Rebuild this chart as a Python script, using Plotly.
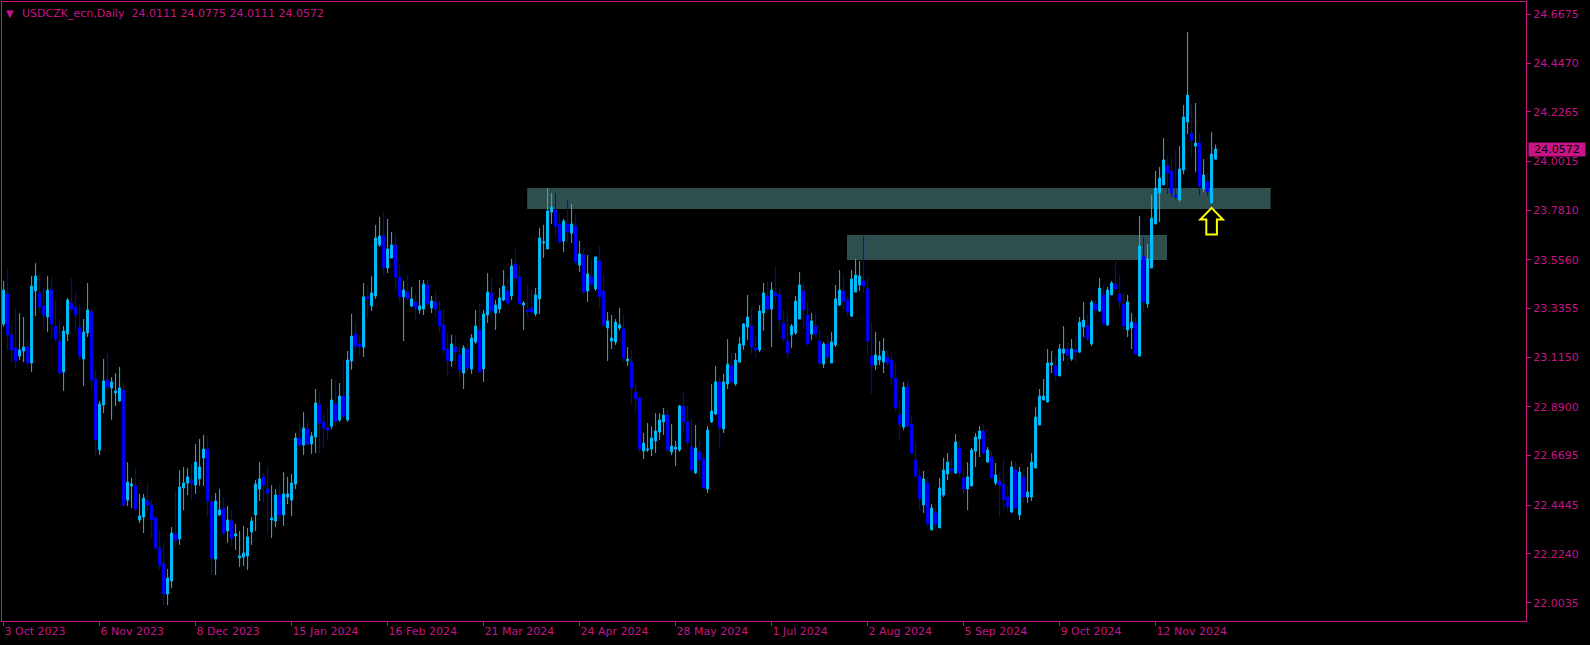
import plotly.graph_objects as go

# ---------------- data (USDCZK_ecn, Daily) ----------------
opens = [
23.265, 23.401, 23.216, 23.157, 23.120, 23.143, 23.161, 23.089, 23.415, 23.406,
23.347, 23.297, 23.419, 23.256, 23.188, 23.048, 23.220, 23.360, 23.342, 23.252,
23.107, 23.225, 23.320, 23.016, 22.695, 22.899, 23.012, 22.976, 22.953, 22.917,
22.966, 22.468, 22.532, 22.532, 22.378, 22.391, 22.464, 22.446, 22.391, 22.251,
22.179, 22.043, 22.102, 22.315, 22.292, 22.523, 22.545, 22.554, 22.536, 22.564,
22.659, 22.699, 22.459, 22.201, 22.401, 22.432, 22.328, 22.373, 22.305, 22.206,
22.210, 22.215, 22.324, 22.401, 22.518, 22.573, 22.518, 22.378, 22.373, 22.491,
22.401, 22.482, 22.468, 22.541, 22.749, 22.717, 22.790, 22.722, 22.754, 22.899,
22.822, 22.794, 22.803, 22.903, 22.831, 22.939, 22.831, 23.098, 23.220, 23.175,
23.161, 23.388, 23.347, 23.392, 23.623, 23.664, 23.519, 23.564, 23.623, 23.478,
23.388, 23.410, 23.347, 23.365, 23.329, 23.333, 23.442, 23.338, 23.365, 23.324,
23.261, 23.152, 23.098, 23.161, 23.125, 23.043, 23.152, 23.062, 23.184, 23.238,
23.062, 23.306, 23.406, 23.315, 23.333, 23.374, 23.415, 23.392, 23.537, 23.478,
23.351, 23.329, 23.338, 23.311, 23.379, 23.632, 23.605, 23.772, 23.781, 23.718,
23.641, 23.718, 23.677, 23.709, 23.532, 23.578, 23.415, 23.478, 23.424, 23.550,
23.415, 23.247, 23.188, 23.184, 23.247, 23.243, 23.098, 23.093, 22.957, 22.930,
22.690, 22.695, 22.699, 22.736, 22.776, 22.822, 22.853, 22.686, 22.699, 22.695,
22.894, 22.822, 22.708, 22.591, 22.686, 22.654, 22.518, 22.822, 22.858, 23.003,
22.790, 22.994, 23.075, 22.994, 23.093, 23.170, 23.252, 23.256, 23.157, 23.148,
23.315, 23.392, 23.333, 23.406, 23.397, 23.270, 23.188, 23.216, 23.225, 23.288,
23.415, 23.306, 23.220, 23.256, 23.188, 23.084, 23.175, 23.089, 23.170, 23.351,
23.415, 23.374, 23.301, 23.410, 23.442, 23.460, 23.424, 23.120, 23.080, 23.102,
23.093, 23.116, 23.102, 23.021, 22.853, 22.799, 22.980, 22.812, 22.650, 22.577,
22.446, 22.545, 22.333, 22.410, 22.342, 22.491, 22.586, 22.609, 22.591, 22.704,
22.568, 22.518, 22.532, 22.690, 22.745, 22.781, 22.640, 22.663, 22.545, 22.554,
22.541, 22.482, 22.414, 22.604, 22.401, 22.573, 22.482, 22.482, 22.613, 22.808,
22.921, 22.912, 23.080, 23.075, 23.030, 23.134, 23.152, 23.107, 23.148, 23.138,
23.252, 23.256, 23.175, 23.356, 23.324, 23.397, 23.261, 23.397, 23.446, 23.401,
23.356, 23.238, 23.247, 23.270, 23.120, 23.573, 23.356, 23.519, 23.718, 23.858,
23.895, 23.981, 23.958, 23.849, 23.827, 23.963, 24.180, 24.130, 24.071, 24.085,
23.877, 23.908, 23.813, 24.0111,
]

highs = [
23.460, 23.514, 23.265, 23.333, 23.315, 23.297, 23.197, 23.483, 23.541, 23.492,
23.428, 23.483, 23.474, 23.369, 23.288, 23.256, 23.383, 23.474, 23.410, 23.356,
23.288, 23.451, 23.333, 23.057, 22.917, 23.107, 23.134, 23.025, 23.043, 23.071,
22.989, 22.640, 22.568, 22.613, 22.496, 22.496, 22.545, 22.468, 22.391, 22.333,
22.265, 22.156, 22.346, 22.509, 22.604, 22.618, 22.613, 22.636, 22.722, 22.745,
22.763, 22.758, 22.487, 22.500, 22.518, 22.482, 22.441, 22.423, 22.360, 22.328,
22.351, 22.342, 22.391, 22.559, 22.640, 22.591, 22.622, 22.536, 22.518, 22.536,
22.595, 22.573, 22.586, 22.772, 22.817, 22.867, 22.826, 22.776, 22.971, 22.957,
22.867, 22.885, 23.016, 23.012, 22.998, 23.107, 23.143, 23.311, 23.270, 23.216,
23.451, 23.442, 23.483, 23.714, 23.750, 23.772, 23.741, 23.682, 23.673, 23.532,
23.460, 23.487, 23.433, 23.401, 23.465, 23.465, 23.465, 23.392, 23.415, 23.369,
23.333, 23.225, 23.216, 23.211, 23.161, 23.170, 23.175, 23.220, 23.329, 23.356,
23.329, 23.496, 23.474, 23.374, 23.428, 23.510, 23.478, 23.560, 23.605, 23.532,
23.369, 23.446, 23.424, 23.428, 23.700, 23.714, 23.881, 23.858, 23.858, 23.768,
23.741, 23.827, 23.809, 23.763, 23.641, 23.605, 23.578, 23.550, 23.569, 23.618,
23.492, 23.320, 23.306, 23.288, 23.338, 23.311, 23.161, 23.148, 22.998, 22.939,
22.772, 22.817, 22.803, 22.862, 22.862, 22.885, 22.881, 22.812, 22.736, 22.899,
22.957, 22.894, 22.835, 22.808, 22.745, 22.677, 22.803, 22.994, 23.075, 23.025,
23.039, 23.197, 23.138, 23.134, 23.206, 23.270, 23.397, 23.338, 23.216, 23.351,
23.451, 23.460, 23.455, 23.528, 23.433, 23.329, 23.311, 23.265, 23.392, 23.501,
23.455, 23.365, 23.315, 23.324, 23.238, 23.184, 23.211, 23.229, 23.442, 23.510,
23.483, 23.392, 23.510, 23.560, 23.550, 23.664, 23.474, 23.274, 23.229, 23.188,
23.202, 23.148, 23.125, 23.089, 22.921, 23.003, 23.012, 22.849, 22.731, 22.609,
22.600, 22.573, 22.450, 22.450, 22.568, 22.659, 22.681, 22.663, 22.767, 22.736,
22.613, 22.640, 22.704, 22.772, 22.803, 22.812, 22.708, 22.690, 22.636, 22.595,
22.654, 22.532, 22.645, 22.645, 22.618, 22.609, 22.618, 22.681, 22.889, 22.971,
23.016, 23.152, 23.143, 23.116, 23.175, 23.256, 23.184, 23.197, 23.216, 23.297,
23.365, 23.306, 23.374, 23.374, 23.474, 23.442, 23.433, 23.460, 23.560, 23.487,
23.410, 23.397, 23.315, 23.297, 23.754, 23.659, 23.628, 23.849, 23.958, 23.976,
24.107, 24.026, 24.017, 24.053, 24.071, 24.257, 24.587, 24.266, 24.266, 24.130,
24.012, 23.949, 24.134, 24.0775,
]

lows = [
23.252, 23.148, 23.093, 23.062, 23.102, 23.093, 23.071, 23.048, 23.301, 23.315,
23.234, 23.229, 23.197, 23.184, 23.039, 22.962, 23.188, 23.324, 23.234, 23.098,
22.985, 23.206, 22.971, 22.668, 22.672, 22.862, 22.962, 22.831, 22.894, 22.912,
22.437, 22.441, 22.432, 22.419, 22.364, 22.319, 22.419, 22.296, 22.247, 22.151,
21.993, 21.993, 22.070, 22.256, 22.265, 22.423, 22.491, 22.464, 22.496, 22.532,
22.532, 22.396, 22.129, 22.129, 22.396, 22.310, 22.274, 22.260, 22.242, 22.165,
22.170, 22.151, 22.265, 22.328, 22.464, 22.459, 22.315, 22.296, 22.346, 22.382,
22.351, 22.450, 22.396, 22.518, 22.708, 22.672, 22.713, 22.677, 22.681, 22.681,
22.699, 22.736, 22.790, 22.803, 22.822, 22.840, 22.822, 23.057, 23.143, 23.120,
23.116, 23.292, 23.324, 23.379, 23.614, 23.483, 23.496, 23.564, 23.419, 23.365,
23.188, 23.369, 23.342, 23.279, 23.311, 23.306, 23.347, 23.315, 23.297, 23.225,
23.129, 23.034, 23.071, 23.080, 23.021, 22.971, 23.052, 23.039, 23.175, 23.043,
23.003, 23.270, 23.292, 23.238, 23.315, 23.369, 23.347, 23.374, 23.451, 23.351,
23.238, 23.292, 23.315, 23.301, 23.311, 23.564, 23.605, 23.718, 23.664, 23.628,
23.591, 23.637, 23.632, 23.532, 23.501, 23.397, 23.365, 23.437, 23.415, 23.338,
23.252, 23.098, 23.152, 23.170, 23.238, 23.093, 23.075, 22.903, 22.871, 22.686,
22.654, 22.686, 22.668, 22.681, 22.740, 22.763, 22.686, 22.672, 22.622, 22.686,
22.781, 22.713, 22.595, 22.586, 22.564, 22.518, 22.500, 22.817, 22.853, 22.699,
22.772, 22.971, 22.994, 22.985, 23.089, 23.148, 23.193, 23.129, 23.111, 23.138,
23.234, 23.320, 23.161, 23.360, 23.234, 23.184, 23.111, 23.157, 23.216, 23.288,
23.243, 23.166, 23.193, 23.202, 23.080, 23.066, 23.102, 23.089, 23.161, 23.347,
23.329, 23.301, 23.297, 23.410, 23.415, 23.406, 23.125, 22.948, 23.057, 23.080,
23.043, 23.075, 22.985, 22.871, 22.736, 22.785, 22.799, 22.677, 22.564, 22.423,
22.410, 22.346, 22.333, 22.342, 22.342, 22.482, 22.559, 22.582, 22.586, 22.573,
22.491, 22.423, 22.532, 22.618, 22.663, 22.677, 22.640, 22.564, 22.536, 22.391,
22.419, 22.419, 22.410, 22.428, 22.378, 22.455, 22.455, 22.464, 22.613, 22.808,
22.921, 22.912, 23.043, 23.003, 23.030, 23.098, 23.080, 23.098, 23.089, 23.134,
23.206, 23.188, 23.166, 23.306, 23.320, 23.265, 23.256, 23.397, 23.424, 23.333,
23.243, 23.206, 23.152, 23.129, 23.120, 23.324, 23.338, 23.519, 23.718, 23.727,
23.895, 23.854, 23.836, 23.831, 23.817, 23.944, 24.125, 24.017, 23.953, 23.849,
23.863, 23.845, 23.813, 24.0111,
]

closes = [
23.419, 23.216, 23.148, 23.098, 23.148, 23.161, 23.089, 23.437, 23.483, 23.342,
23.306, 23.419, 23.265, 23.197, 23.043, 23.234, 23.374, 23.333, 23.306, 23.120,
23.229, 23.329, 23.012, 22.740, 22.903, 23.007, 22.980, 23.003, 22.962, 22.976,
22.446, 22.550, 22.541, 22.428, 22.396, 22.477, 22.446, 22.378, 22.251, 22.174,
22.043, 22.115, 22.319, 22.287, 22.527, 22.545, 22.573, 22.545, 22.640, 22.618,
22.699, 22.464, 22.206, 22.464, 22.423, 22.319, 22.378, 22.296, 22.315, 22.215,
22.228, 22.301, 22.373, 22.541, 22.564, 22.536, 22.500, 22.387, 22.491, 22.401,
22.496, 22.496, 22.545, 22.749, 22.717, 22.794, 22.722, 22.758, 22.908, 22.817,
22.794, 22.785, 22.921, 22.826, 22.939, 22.849, 23.102, 23.211, 23.166, 23.161,
23.388, 23.379, 23.406, 23.655, 23.664, 23.519, 23.605, 23.623, 23.478, 23.388,
23.419, 23.379, 23.379, 23.338, 23.347, 23.446, 23.356, 23.369, 23.333, 23.256,
23.148, 23.098, 23.175, 23.138, 23.057, 23.157, 23.066, 23.202, 23.256, 23.048,
23.311, 23.410, 23.324, 23.351, 23.383, 23.437, 23.360, 23.528, 23.474, 23.356,
23.360, 23.320, 23.320, 23.397, 23.655, 23.637, 23.777, 23.795, 23.709, 23.637,
23.732, 23.682, 23.718, 23.546, 23.582, 23.410, 23.492, 23.446, 23.569, 23.388,
23.261, 23.279, 23.202, 23.274, 23.261, 23.111, 23.107, 22.976, 22.926, 22.699,
22.726, 22.699, 22.749, 22.781, 22.831, 22.853, 22.695, 22.713, 22.708, 22.894,
22.822, 22.731, 22.604, 22.704, 22.650, 22.523, 22.785, 22.871, 23.003, 22.794,
23.003, 23.084, 23.003, 23.102, 23.175, 23.265, 23.297, 23.161, 23.148, 23.324,
23.406, 23.333, 23.419, 23.392, 23.283, 23.197, 23.134, 23.256, 23.369, 23.442,
23.329, 23.175, 23.279, 23.220, 23.089, 23.175, 23.116, 23.184, 23.379, 23.419,
23.369, 23.320, 23.469, 23.487, 23.483, 23.437, 23.188, 23.080, 23.125, 23.120,
23.143, 23.089, 23.025, 22.885, 22.812, 22.980, 22.803, 22.681, 22.577, 22.473,
22.564, 22.360, 22.432, 22.360, 22.523, 22.604, 22.640, 22.600, 22.731, 22.591,
22.518, 22.573, 22.695, 22.754, 22.781, 22.681, 22.695, 22.568, 22.582, 22.536,
22.473, 22.437, 22.618, 22.432, 22.595, 22.482, 22.505, 22.640, 22.844, 22.939,
22.939, 23.089, 23.089, 23.034, 23.152, 23.152, 23.125, 23.152, 23.138, 23.274,
23.283, 23.197, 23.365, 23.329, 23.428, 23.265, 23.419, 23.451, 23.424, 23.365,
23.256, 23.365, 23.274, 23.129, 23.618, 23.365, 23.560, 23.745, 23.881, 23.926,
24.008, 23.949, 23.858, 23.840, 23.967, 24.202, 24.302, 24.098, 24.085, 23.890,
23.940, 23.863, 24.035, 24.0572,
]

tick_labels = ["3 Oct 2023", "6 Nov 2023", "8 Dec 2023", "15 Jan 2024", "16 Feb 2024",
               "21 Mar 2024", "24 Apr 2024", "28 May 2024", "1 Jul 2024", "2 Aug 2024",
               "5 Sep 2024", "9 Oct 2024", "12 Nov 2024"]
tick_step = 24  # bars between date labels

price_ticks = [22.0035, 22.2240, 22.4445, 22.6695, 22.8900, 23.1150, 23.3355,
               23.5560, 23.7810, 24.0015, 24.2265, 24.4470, 24.6675]

# supply/demand zones (bar index start/end, price top/bottom)
zone_start = [130.9, 210.85]
zone_end = [316.75, 290.85]
zone_top = [23.881, 23.668]
zone_bottom = [23.786, 23.555]

# signal arrow (bar index, tip price)
arrow_bar = 302
arrow_tip = 23.791

symbol_title = "USDCZK_ecn,Daily"
last_bar = (opens[-1], highs[-1], lows[-1], closes[-1])

# ---------------- styling ----------------
W, H = 1590, 645
ML, MR, MT, MB = 2, 64, 2, 24
PINK = "#C71585"
BULL = "#00BFFF"
BEAR = "#0000FF"
FONT = "DejaVu Sans"

x_range = [-0.4, 380.6]
y_range = [21.9206, 24.7232]
plot_w = W - ML - MR
plot_h = H - MT - MB
px_x = (x_range[1] - x_range[0]) / plot_w
px_y = (y_range[1] - y_range[0]) / plot_h

idx = list(range(len(closes)))

fig = go.Figure()
fig.add_trace(go.Candlestick(
    x=idx, open=opens, high=highs, low=lows, close=closes,
    increasing=dict(line=dict(color=BULL, width=1), fillcolor=BULL),
    decreasing=dict(line=dict(color=BEAR, width=1), fillcolor=BEAR),
    whiskerwidth=0, hoverinfo="skip", showlegend=False,
))

shapes = []
for x0, x1, t, b in zip(zone_start, zone_end, zone_top, zone_bottom):
    shapes.append(dict(type="rect", xref="x", yref="y", x0=x0, x1=x1, y0=b, y1=t,
                       fillcolor="#2F4F4F", line=dict(width=0), layer="below"))

# block up-arrow built from pixel offsets relative to the tip
pts = [(0, 0), (11.3, 11.7), (5.3, 11.7), (5.3, 26.7), (-5.3, 26.7), (-5.3, 11.7), (-11.3, 11.7)]
path = ""
for k, (dx, dy) in enumerate(pts):
    path += ("M" if k == 0 else "L") + f"{arrow_bar + dx * px_x},{arrow_tip - dy * px_y} "
path += "Z"
shapes.append(dict(type="path", xref="x", yref="y", path=path,
                   fillcolor="#000000", line=dict(color="#FFFF00", width=2), layer="above"))

annotations = [
    dict(xref="paper", yref="paper", x=0, y=1, xanchor="left", yanchor="top",
         xshift=2, yshift=-4, text="▼", showarrow=False,
         font=dict(family=FONT, size=10, color=PINK)),
    dict(xref="paper", yref="paper", x=0, y=1, xanchor="left", yanchor="top",
         xshift=18, yshift=-3, showarrow=False,
         text=symbol_title + "\u00a0\u00a0" + " ".join(f"{v:.4f}" for v in last_bar),
         font=dict(family=FONT, size=11, color=PINK)),
    dict(xref="paper", yref="y", x=1, y=closes[-1], xanchor="left", yanchor="middle",
         xshift=2, showarrow=False, text=f"{closes[-1]:.4f}", bgcolor=PINK,
         width=54, height=11, borderpad=1,
         font=dict(family=FONT, size=11, color="#000000")),
]

fig.update_layout(
    width=W, height=H,
    margin=dict(l=ML, r=MR, t=MT, b=MB),
    paper_bgcolor="#000000", plot_bgcolor="#000000",
    boxgap=0.5, boxgroupgap=0,
    shapes=shapes, annotations=annotations,
    showlegend=False,
    xaxis=dict(
        range=x_range, rangeslider=dict(visible=False),
        tickvals=[k * tick_step for k in range(len(tick_labels))], ticktext=tick_labels,
        ticks="outside", ticklen=4, tickcolor=PINK, tickwidth=1,
        ticklabelposition="outside right",
        showgrid=False, zeroline=False,
        showline=True, linecolor=PINK, linewidth=1, mirror=True,
        tickfont=dict(family=FONT, size=11, color=PINK),
    ),
    yaxis=dict(
        range=y_range, side="right",
        tickvals=price_ticks, ticktext=[f"{v:.4f}" for v in price_ticks],
        ticks="outside", ticklen=4, tickcolor=PINK, tickwidth=1,
        showgrid=False, zeroline=False,
        showline=True, linecolor=PINK, linewidth=1, mirror=True,
        tickfont=dict(family=FONT, size=11, color=PINK),
    ),
)

fig.write_html("out.html", config={"displayModeBar": False},
               post_script="document.body.style.margin='0';document.body.style.overflow='hidden';")
